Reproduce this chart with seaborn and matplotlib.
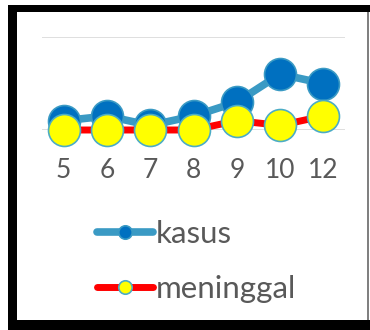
import pandas as pd
import matplotlib.pyplot as plt
import seaborn as sns
from matplotlib.patches import Rectangle

bulan = ["5", "6", "7", "8", "9", "10", "12"]
kasus = [2, 3, 1, 3, 6, 12, 10]
meninggal = [0, 0, 0, 0, 2, 1, 3]

data = pd.DataFrame({"bulan": bulan, "kasus": kasus, "meninggal": meninggal})

sns.set_style("white")
plt.rcParams['font.family'] = ['Lato', 'DejaVu Sans']

W, H = 370, 330
fig = plt.figure(figsize=(W / 100, H / 100), dpi=100)
ax = fig.add_axes([42 / W, 1 - 130 / H, 303 / W, 93 / H])

sns.lineplot(data=data, x="bulan", y="kasus", sort=False, ax=ax,
             color="#3A9AC4", linewidth=5.5, marker="o", markersize=23,
             markerfacecolor="#0070C0", markeredgecolor="#3A9AC4",
             markeredgewidth=1.2, label="kasus", clip_on=False, zorder=3)
sns.lineplot(data=data, x="bulan", y="meninggal", sort=False, ax=ax,
             color="#FF0000", linewidth=5, marker="o", markersize=23,
             markerfacecolor="#FFFF00", markeredgecolor="#4BACC6",
             markeredgewidth=1.2, label="meninggal", clip_on=False, zorder=4)

ax.set_xlim(-0.5, 6.5)
ax.set_ylim(0, 20)
ax.set_yticks([0, 20])
ax.set_yticklabels([])
ax.grid(axis="y", color="#D9D9D9", linewidth=1.2)
ax.grid(axis="x", visible=False)
ax.set_axisbelow(True)
for s in ax.spines.values():
    s.set_visible(False)
ax.tick_params(axis="x", length=0, pad=20, labelsize=19, labelcolor="#595959")
ax.tick_params(axis="y", length=0)
ax.set_xlabel("")
ax.set_ylabel("")

handles, labels = ax.get_legend_handles_labels()
ax.get_legend().remove()
fig.legend(handles, labels, loc="upper left", bbox_to_anchor=(81 / W, 1 - 204 / H),
           frameon=False, fontsize=22.5, labelcolor="#595959", handlelength=1.8,
           handletextpad=0.1, labelspacing=0.87, markerscale=0.42, borderpad=0)

# black frame around the chart
def box(x0, y0, x1, y1, color):
    fig.add_artist(Rectangle((x0 / W, 1 - y1 / H), (x1 - x0) / W, (y1 - y0) / H,
                             transform=fig.transFigure, color=color, lw=0))

box(8, 5, 17, 330, "black")
box(8, 5, 370, 12, "black")
box(8, 320, 370, 330, "black")
box(367, 12, 368.5, 320, "#808080")

fig.savefig("out.png", dpi=100)
